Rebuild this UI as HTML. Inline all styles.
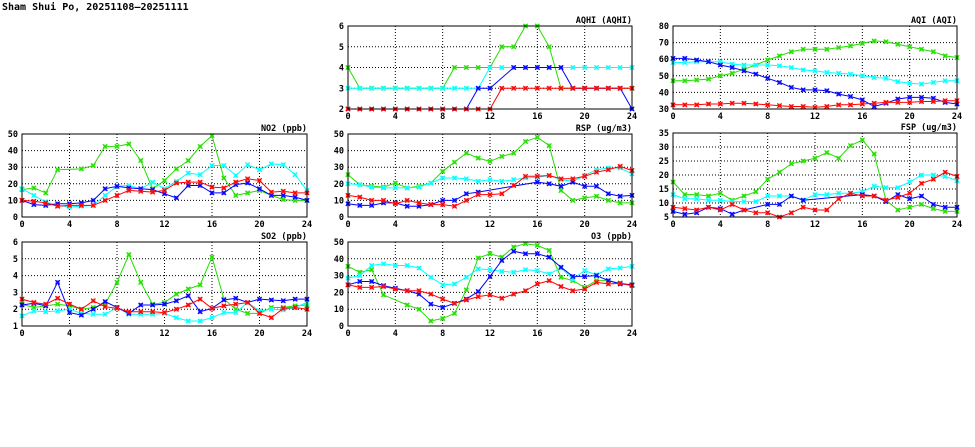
<!DOCTYPE html>
<html><head><meta charset="utf-8"><style>
html,body{margin:0;padding:0;background:#fff;}
svg{display:block;font-family:"DejaVu Sans Mono","Liberation Mono",monospace;font-weight:bold;}
</style></head><body>
<svg id="s" width="975" height="447" xmlns="http://www.w3.org/2000/svg">
<text x="2" y="10" font-size="10">Sham Shui Po, 20251108–20251111</text>
</svg>
<script>
var N=null;
var panels=[
{t:"AQHI (AQHI)",x0:348,x1:632,y0:26,y1:109,min:2,max:6,lab:["2","3","4","5","6"],
 d:[[4,3,3,3,3,3,3,3,3,4,4,4,4,5,5,6,6,5,3,3,3,3,3,3,3],
    [3,3,3,3,3,3,3,3,3,3,3,3,4,4,4,4,4,4,4,4,4,4,4,4,4],
    [2,2,2,2,2,2,2,2,2,2,2,3,3,N,4,4,4,4,4,3,3,3,3,3,2],
    [2,2,2,2,2,2,2,2,2,2,2,2,2,3,3,3,3,3,3,3,3,3,3,3,3]]},
{t:"AQI (AQI)",x0:673,x1:957,y0:26,y1:109,min:30,max:80,lab:["30","40","50","60","70","80"],
 d:[[47,47,47.5,48,50,51.5,54,56.5,59.5,62,64.5,66,66,66,67,68,69.5,71,70.5,69,67.5,66,64.5,62,61],
    [58,58,58.5,58.5,58.5,57,56.5,56.5,56.5,56,55,53.5,53,52,51.5,51,50,49,48.5,46.5,45.5,45,46,47,47],
    [60.5,60.5,59.5,58.5,56.5,55,53,51,48.5,46,43,41.5,41.5,41,39,37.5,35.5,31.5,33.5,36,37,37,36.5,34,33],
    [32.5,32.5,32.5,33,33,33.5,33.5,33,32.5,32,31.5,31.5,31,31.5,32.5,32.5,33,33.5,34,34,34,34.5,34.5,35,35]]},
{t:"NO2 (ppb)",x0:22,x1:307,y0:134,y1:217,min:0,max:50,lab:["0","10","20","30","40","50"],
 d:[[16.5,17.5,14.5,28.5,N,29,31,42.5,42.5,44,34,17,22,29,34,42.5,49,23.5,13,14.5,16,13,10.5,10,10],
    [17,13,9,7,6,6.5,7,13,18.5,19,17,21,17,21.5,26.5,25.5,31,31,25,31.5,28.5,32,31.5,25.5,16],
    [10,7.5,7,8,8,8.5,10,17,18.5,17.5,17,16.5,14,11.5,19,19,14.5,14.5,19.5,20.5,17,13,13,12,10],
    [10,9.5,8.5,6.5,7,7,7,10,13,16,15.5,15,16,20.5,21,21,18,17.5,21,23,22,15,15.5,14.5,14.5]]},
{t:"RSP (ug/m3)",x0:348,x1:632,y0:134,y1:217,min:0,max:50,lab:["0","10","20","30","40","50"],
 d:[[25.5,19.5,18.5,18,20.5,17.5,18.5,20.5,27.5,33,38.5,35.5,33.5,36.5,38.5,45.5,48,43,16,10,11.5,12.5,10,8.5,8.5],
    [20,19.5,18,17.5,17.5,17.5,18,20.5,23.5,23.5,23,21.5,22.5,21.5,22.5,23.5,24,25,22.5,21.5,25,28.5,29.5,29.5,26],
    [8,7,7,8.5,8.5,6.5,6.5,7.5,10,10,14,15,N,N,N,N,21,20,18.5,21,18.5,18.5,14,12.5,13],
    [13,12,10,10,8,10,8.5,7.5,7.5,6.5,10,13.5,13.5,14,19,24.5,24.5,25,23,23,24.5,27,28.5,30.5,28]]},
{t:"FSP (ug/m3)",x0:673,x1:957,y0:133,y1:217,min:5,max:35,lab:["5","10","15","20","25","30","35"],
 d:[[17.5,13,13,12.5,13.5,11,12.5,14,18.5,21,24,25,26,28,26,30.5,32.5,27.5,11,7.5,8.5,9.5,8,7,7],
    [13,11.5,11.5,11,11,10.5,10.5,10.5,12.5,12.5,12.5,11,13,13,13.5,13.5,14,16,15.5,15.5,17.5,20,20,19.5,18],
    [7,6,6.5,8.5,8,6,7.5,N,9.5,9.5,12.5,11,N,N,N,N,13,12.5,10.5,13,11.5,12.5,9.5,8.5,8.5],
    [8.5,8,7.5,8.5,7.5,9.5,7.5,6.5,6.5,5,6.5,8.5,7.5,7.5,11.5,13.5,12.5,12.5,11,12,13.5,17,18.5,21,19.5]]},
{t:"SO2 (ppb)",x0:22,x1:307,y0:242,y1:326,min:1,max:6,lab:["1","2","3","4","5","6"],
 d:[[2.3,2.1,2.2,2.3,2.2,2.0,2.1,2.3,3.6,5.25,3.6,2.3,2.4,2.9,3.2,3.45,5.1,2.6,2.0,1.75,1.75,2.1,2.1,2.2,2.25],
    [1.6,1.9,1.85,1.9,2.0,1.75,1.7,1.7,2.1,1.7,1.7,1.7,1.75,1.5,1.3,1.3,1.5,1.8,1.8,2.4,1.9,2.0,1.95,2.1,2.4],
    [2.25,2.35,2.2,3.6,1.8,1.65,2.0,2.45,2.1,1.75,2.25,2.25,2.3,2.5,2.8,1.85,2.05,2.55,2.65,2.4,2.6,2.55,2.5,2.6,2.6],
    [2.6,2.4,2.3,2.65,2.3,2.0,2.5,2.15,2.05,1.85,1.85,1.85,1.8,2.0,2.25,2.6,2.05,2.2,2.3,2.4,1.75,1.5,2.05,2.1,2.0]]},
{t:"O3 (ppb)",x0:348,x1:632,y0:242,y1:326,min:0,max:50,lab:["0","10","20","30","40","50"],
 d:[[35.5,32,33.5,18.5,N,12.5,10,3,4.5,7.5,21.5,40.5,43,41,47,49,48,45,29,27,23,27,27,25.5,24.5],
    [28.5,30,36,37,36,36,34.5,29,24.5,25,29,34,33.5,32.5,32,33.5,33,31,34.5,28,33,30.5,34,34.5,35.5],
    [24.5,26.5,26.5,24,22.5,21,19,13,11,13.5,16,20.5,29.5,39,44.5,43,43,41,35,29.5,29.5,30,27,25,24.5],
    [24.5,23,23,23.5,22,21,21,19,16,13.5,15.5,17.5,18.5,16.5,19,21,25,27,23.5,21,22,26,25,25.5,24]]}
];
var cols=["#22dd00","#00ffff","#0000ff","#ff0000"];
var mcols=["#66ee44","#55ffff","#4444ff","#ff4444"];
var xl=["0","4","8","12","16","20","24"];
var h='';
panels.forEach(function(p){
 var W=p.x1-p.x0,H=p.y1-p.y0;
 function X(i){return p.x0+W*i/24;}
 function Y(v){return p.y1-H*(v-p.min)/(p.max-p.min);}
 var n=p.lab.length;
 for(var k=1;k<n-1;k++){var y=p.y0+H*k/(n-1);h+='<line x1="'+p.x0+'" x2="'+p.x1+'" y1="'+y+'" y2="'+y+'" stroke="#000" stroke-width="1" stroke-dasharray="1,2"/>';}
 for(var k=1;k<6;k++){var x=p.x0+W*k/6;h+='<line x1="'+x+'" x2="'+x+'" y1="'+p.y0+'" y2="'+p.y1+'" stroke="#000" stroke-width="1" stroke-dasharray="1,2"/>';}
 p.d.forEach(function(s,si){
  var pts=[];s.forEach(function(v,i){if(v!==null)pts.push(X(i).toFixed(1)+','+Y(v).toFixed(1));});
  h+='<polyline fill="none" stroke="'+cols[si]+'" stroke-width="1" points="'+pts.join(' ')+'"/>';
  s.forEach(function(v,i){if(v===null)return;var x=X(i),y=Y(v);
   h+='<rect x="'+(x-2)+'" y="'+(y-2)+'" width="4" height="4" fill="'+mcols[si]+'" opacity="0.8"/>';
   h+='<path d="M'+(x-2.2)+' '+(y-2.2)+'L'+(x+2.2)+' '+(y+2.2)+'M'+(x-2.2)+' '+(y+2.2)+'L'+(x+2.2)+' '+(y-2.2)+'" stroke="'+cols[si]+'" stroke-width="1.2"/>';});
 });
 h+='<rect x="'+p.x0+'" y="'+p.y0+'" width="'+W+'" height="'+H+'" fill="none" stroke="#000" stroke-width="1"/>';
 for(var k=0;k<n;k++){var y=p.y1-H*k/(n-1);h+='<text x="'+(p.x0-4)+'" y="'+(y+3)+'" font-size="8.5" text-anchor="end">'+p.lab[k]+'</text>';}
 for(var k=0;k<7;k++){var x=p.x0+W*k/6;h+='<text x="'+x+'" y="'+(p.y1+10)+'" font-size="8.5" text-anchor="middle">'+xl[k]+'</text>';}
 h+='<text x="'+p.x1+'" y="'+(p.y0-3)+'" font-size="8.5" text-anchor="end">'+p.t+'</text>';
});
document.getElementById('s').insertAdjacentHTML('beforeend',h);
</script>
</body></html>
